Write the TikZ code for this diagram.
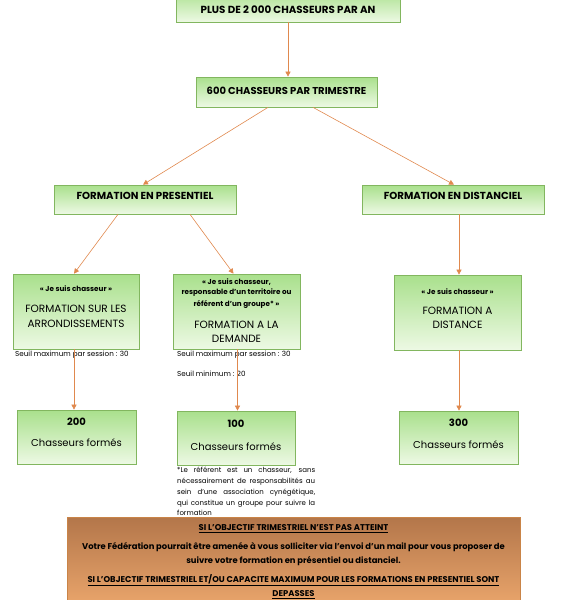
\documentclass[tikz,border=0pt]{standalone}
\usepackage{fontspec}
\setmainfont{Poppins}
\usetikzlibrary{arrows.meta}
\definecolor{gtop}{HTML}{A9E08C}
\definecolor{gbot}{HTML}{EDF9E4}
\definecolor{gborder}{HTML}{82B65F}
\definecolor{btop}{HTML}{B3764A}
\definecolor{bbot}{HTML}{EBA66C}
\definecolor{bborder}{HTML}{C98448}
\definecolor{arr}{HTML}{E0894E}
\newcommand\fsz[1]{\fontsize{#1}{#1}\selectfont}
\newcommand\jline[1]{\makebox[138pt][s]{#1}}
\tikzset{
  gbox/.style={draw=gborder, line width=0.7pt, top color=gtop, bottom color=gbot, inner sep=0pt},
  conn/.style={draw=arr, line width=0.6pt, -{Triangle[length=5pt,width=5pt]}},
  txt/.style={inner sep=0pt, text=black},
}
\begin{document}
\begin{tikzpicture}[x=1pt,y=-1pt]
\useasboundingbox (0,0) rectangle (567,600);
% boxes
\node[gbox, minimum width=224pt, minimum height=32pt] (top) at (288,6) {};
\node[gbox, minimum width=181pt, minimum height=30pt] (mid) at (286.5,92) {};
\node[gbox, minimum width=182pt, minimum height=29pt] (pres) at (145,199.5) {};
\node[gbox, minimum width=182pt, minimum height=29pt] (dist) at (453,199.5) {};
\node[gbox, minimum width=126pt, minimum height=75pt] (arrb) at (76,311.5) {};
\node[gbox, minimum width=127pt, minimum height=75pt] (dem) at (236.5,311.5) {};
\node[gbox, minimum width=127pt, minimum height=75pt] (distb) at (457.5,312.5) {};
\node[gbox, minimum width=119pt, minimum height=54pt] (b200) at (76.5,437) {};
\node[gbox, minimum width=118pt, minimum height=54pt] (b100) at (236,438) {};
\node[gbox, minimum width=119pt, minimum height=53pt] (b300) at (458.5,437.5) {};
\node[draw=bborder, line width=0.7pt, top color=btop, bottom color=bbot, minimum width=453pt, minimum height=90pt, inner sep=0pt] (info) at (293.5,562) {};

% texts
\node[txt, font=\fsz{10.3}\bfseries] (t1) at (288,10) {PLUS DE 2 000 CHASSEURS PAR AN};
\node[txt, font=\fsz{10}\bfseries] (t2) at (286.5,91) {600 CHASSEURS PAR TRIMESTRE};
\node[txt, font=\fsz{10.2}\bfseries] (t3) at (145,196) {FORMATION EN PRESENTIEL};
\node[txt, font=\fsz{10.2}\bfseries] (t4) at (453,196) {FORMATION EN DISTANCIEL};

\node[txt, font=\fsz{7.2}\bfseries] (a1) at (76,289) {« Je suis chasseur »};
\node[txt, font=\fsz{10.5}, align=center] (a2) at (76,316.5) {FORMATION SUR LES\\[4pt]ARRONDISSEMENTS};

\node[txt, font=\fsz{7.2}\bfseries, align=center] (d1) at (236.5,293.5) {« Je suis chasseur,\\[3pt]responsable d’un territoire ou\\[3pt]référent d’un groupe* »};
\node[txt, font=\fsz{10.5}, align=center] (d2) at (236.5,332) {FORMATION A LA\\[4pt]DEMANDE};

\node[txt, font=\fsz{7.2}\bfseries] (s1) at (457.5,292) {« Je suis chasseur »};
\node[txt, font=\fsz{10.5}, align=center] (s2) at (457.5,318) {FORMATION A\\[4pt]DISTANCE};

\node[txt, font=\fsz{7.2}, anchor=west] (m1) at (15,355) {Seuil maximum par session : 30};
\node[txt, font=\fsz{7.2}, anchor=west] (m2) at (177,355) {Seuil maximum par session : 30};
\node[txt, font=\fsz{7.2}, anchor=west] (m3) at (177,374) {Seuil minimum : 20};

\node[txt, font=\fsz{10}\bfseries] (n200) at (76.5,422) {200};
\node[txt, font=\fsz{10}] (c200) at (76.5,443) {Chasseurs formés};
\node[txt, font=\fsz{10}\bfseries] (n100) at (236,424) {100};
\node[txt, font=\fsz{10}] (c100) at (236,447) {Chasseurs formés};
\node[txt, font=\fsz{10}\bfseries] (n300) at (458.5,423) {300};
\node[txt, font=\fsz{10}] (c300) at (458.5,445) {Chasseurs formés};

\node[txt, anchor=north west, align=left, font=\fontsize{7}{10.8}\selectfont] (foot) at (177,467) {%
\jline{*Le référent est un chasseur, sans}\\
\jline{nécessairement de responsabilités au}\\
\jline{sein d’une association cynégétique,}\\
\jline{qui constitue un groupe pour suivre la}\\
formation};

\node[txt, font=\fsz{8.4}\bfseries] (i1) at (293.5,529) {\underline{SI L’OBJECTIF TRIMESTRIEL N’EST PAS ATTEINT}};
\node[txt, font=\fsz{8.4}\bfseries, align=center] (i2) at (293.5,554) {Votre Fédération pourrait être amenée à vous solliciter via l’envoi d’un mail pour vous proposer de\\[3pt]suivre votre formation en présentiel ou distanciel.};
\node[txt, font=\fsz{8.4}\bfseries, align=center] (i3) at (293.5,586.5) {\underline{SI L’OBJECTIF TRIMESTRIEL ET/OU CAPACITE MAXIMUM POUR LES FORMATIONS EN PRESENTIEL SONT}\\[3pt]\underline{DEPASSES}};

% connectors
\draw[conn] (top.south) -- (top.south |- mid.north);
\draw[conn] ([xshift=-18.5pt]mid.south) -- ([xshift=-2pt]pres.north);
\draw[conn] ([xshift=26.5pt]mid.south) -- ([xshift=1pt]dist.north);
\draw[conn] ([xshift=-27pt]pres.south) -- ([xshift=-2pt]arrb.north);
\draw[conn] ([xshift=45pt]pres.south) -- ([xshift=-3pt]dem.north);
\draw[conn] ([xshift=6pt]dist.south) -- ([xshift=6pt]dist.south |- distb.north);
\draw[conn] ([xshift=-2pt]arrb.south) -- ([xshift=-2pt]arrb.south |- b200.north);
\draw[conn] ([xshift=1pt]dem.south) -- ([xshift=1pt]dem.south |- b100.north);
\draw[conn] ([xshift=1.5pt]distb.south) -- ([xshift=1.5pt]distb.south |- b300.north);
\end{tikzpicture}
\end{document}
